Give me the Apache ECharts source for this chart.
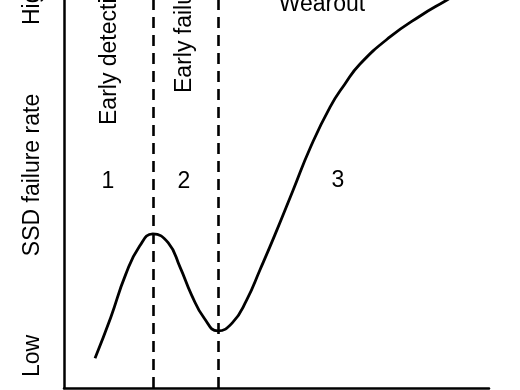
<!DOCTYPE html>
<html>
<head>
<meta charset="utf-8">
<script src="https://cdn.jsdelivr.net/npm/echarts@6/dist/echarts.min.js"></script>
<style>
  html, body { margin: 0; padding: 0; background: #fff; }
  #chart { width: 520px; height: 390px; }
</style>
</head>
<body>
<div id="chart"></div>
<script>
// time (0-100, arbitrary) vs failure rate (0 = Low ... ~92 at top edge, cut off = High)
const timeValues = [7.3, 11.0, 14.5, 17.8, 20.9, 24.5, 27.3, 30.0, 33.0, 36.2, 39.6, 43.0, 46.1, 49.6, 53.9, 57.9, 62.6, 66.1, 69.6, 76.7, 83.8, 90.1, 95.5]
const failureRate = [7.1, 16.8, 27.0, 33.8, 36.7, 34.6, 28.8, 22.2, 16.6, 13.6, 15.5, 21.0, 28.1, 36.4, 47.1, 57.1, 66.9, 72.4, 77.1, 83.6, 88.6, 92.4, 95.7]
const phaseBounds = [20.9, 36.2]
const phaseNumbers = ['1', '2', '3']
const phaseNames = ['Early detection', 'Early failure', 'Wearout']
const rateLabels = ['Low', 'High']
const yTitle = 'SSD failure rate'

const font = '"Liberation Sans", Arial, Helvetica, sans-serif'
const textStyle = (text, extra) => ({ text, fill: '#000', font: '23px ' + font, ...extra })

const chart = echarts.init(document.getElementById('chart'))

chart.setOption({
  animation: false,
  grid: { left: 64, right: 31, top: 0, bottom: 2 },
  xAxis: {
    type: 'value', min: 0, max: 100,
    axisLine: { show: true, lineStyle: { color: '#000', width: 2.5 } },
    axisTick: { show: false }, axisLabel: { show: false }, splitLine: { show: false }
  },
  yAxis: {
    // the figure is cropped at the top, so the visible range stops short of the curve's end
    type: 'value', min: 0, max: 92.4,
    axisLine: { show: true, lineStyle: { color: '#000', width: 2.5 } },
    axisTick: { show: false }, axisLabel: { show: false }, splitLine: { show: false }
  },
  series: [
    {
      type: 'line',
      data: timeValues.map((t, i) => [t, failureRate[i]]),
      smooth: 0.5,
      clip: false,
      symbol: 'none',
      lineStyle: { color: '#000', width: 2.8 },
      markLine: {
        silent: true,
        symbol: 'none',
        label: { show: false },
        lineStyle: { color: '#000', width: 2.6, type: [11, 7] },
        data: phaseBounds.map(b => ({ xAxis: b }))
      }
    }
  ],
  graphic: [
    { type: 'text', x: 33, y: 25, rotation: Math.PI / 2, style: textStyle(rateLabels[1], { align: 'left', verticalAlign: 'middle' }) },
    { type: 'text', x: 33, y: 377, rotation: Math.PI / 2, style: textStyle(rateLabels[0], { align: 'left', verticalAlign: 'middle' }) },
    { type: 'text', x: 33, y: 175, rotation: Math.PI / 2, style: textStyle(yTitle, { align: 'center', verticalAlign: 'middle' }) },
    { type: 'text', x: 110, y: 125, rotation: Math.PI / 2, style: textStyle(phaseNames[0], { align: 'left', verticalAlign: 'middle' }) },
    { type: 'text', x: 185, y: 93, rotation: Math.PI / 2, style: textStyle(phaseNames[1], { align: 'left', verticalAlign: 'middle' }) },
    { type: 'text', x: 322, y: 5, style: textStyle(phaseNames[2], { align: 'center', verticalAlign: 'middle' }) },
    { type: 'text', x: 108, y: 182, style: textStyle(phaseNumbers[0], { align: 'center', verticalAlign: 'middle' }) },
    { type: 'text', x: 184, y: 182, style: textStyle(phaseNumbers[1], { align: 'center', verticalAlign: 'middle' }) },
    { type: 'text', x: 338, y: 181, style: textStyle(phaseNumbers[2], { align: 'center', verticalAlign: 'middle' }) }
  ]
})
</script>
</body>
</html>
